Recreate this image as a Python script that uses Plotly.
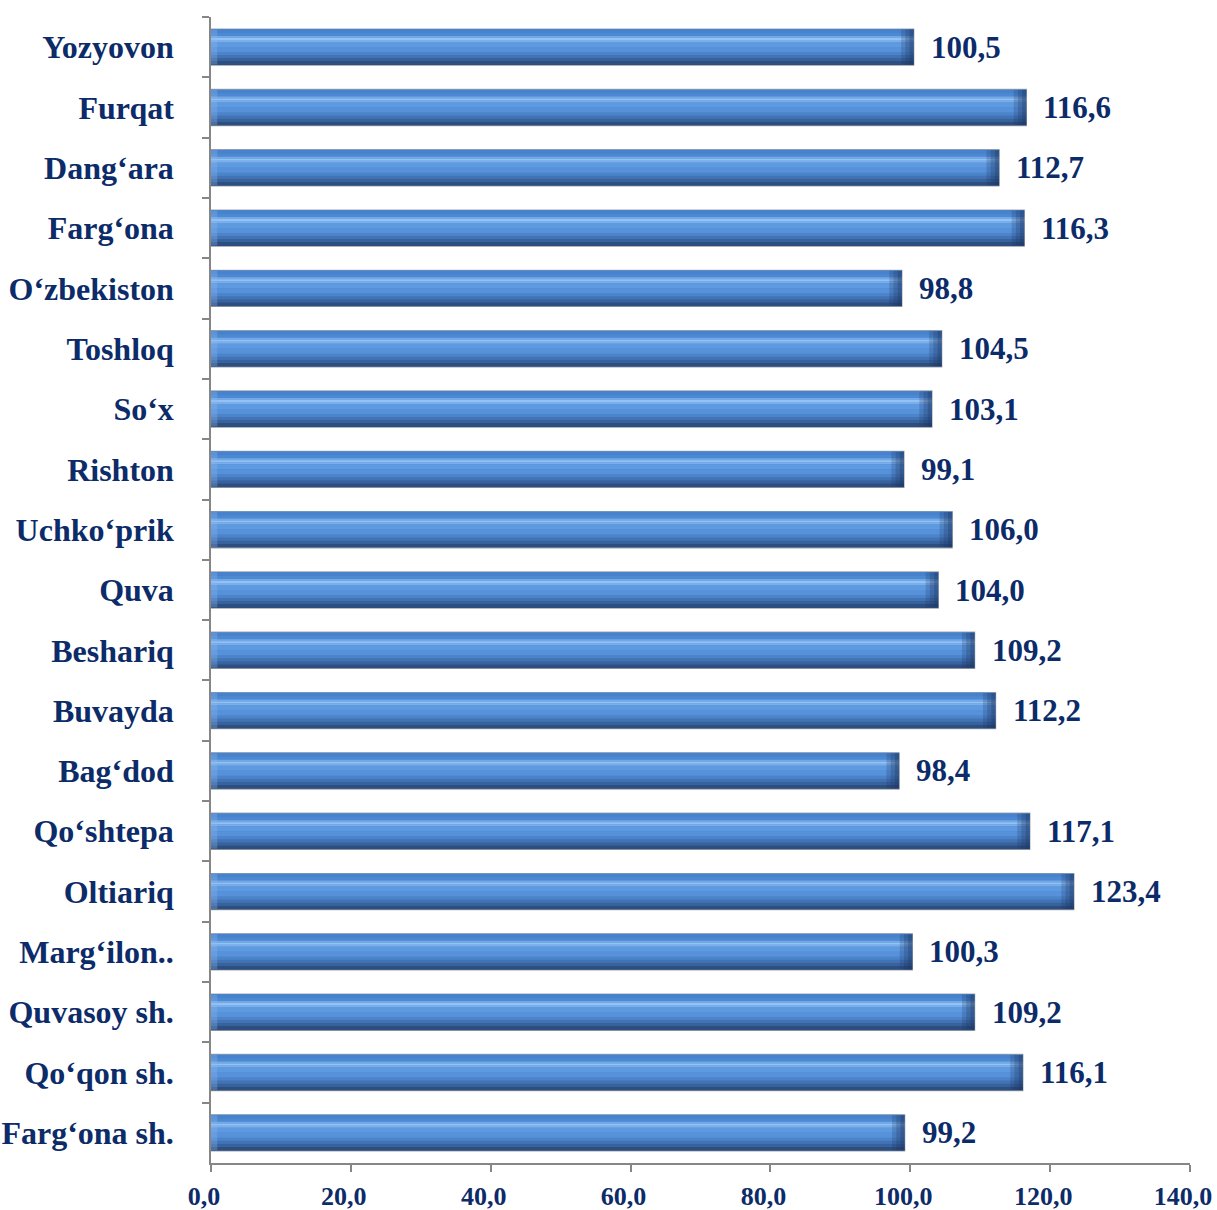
import plotly.graph_objects as go

# Data (top to bottom as shown)
categories = ["Yozyovon", "Furqat", "Dang‘ara", "Farg‘ona", "O‘zbekiston", "Toshloq",
              "So‘x", "Rishton", "Uchko‘prik", "Quva", "Beshariq", "Buvayda", "Bag‘dod",
              "Qo‘shtepa", "Oltiariq", "Marg‘ilon..", "Quvasoy sh.", "Qo‘qon sh.", "Farg‘ona sh."]
values = [100.5, 116.6, 112.7, 116.3, 98.8, 104.5, 103.1, 99.1, 106.0, 104.0,
          109.2, 112.2, 98.4, 117.1, 123.4, 100.3, 109.2, 116.1, 99.2]
x_ticks = [0, 20, 40, 60, 80, 100, 120, 140]

TEXT = "#0C2B69"
FONT = "Liberation Serif"
BAND_PX = 60.3
BAR_W = 0.6
# vertical gradient stripes: (px from top start, px end, color)
stripes = [
    (0, 4, "#4882CC"),
    (4, 7, "#4C89D3"),
    (7, 9, "#72A8E6"),
    (9, 11, "#94C2F2"),
    (11, 13, "#7BAEEA"),
    (13, 18, "#5E9AE0"),
    (18, 23, "#5691DA"),
    (23, 26, "#4C84CA"),
    (26, 29, "#4273B4"),
    (29, 32, "#37629D"),
    (32, 36, "#2D4F80"),
]

fig = go.Figure()
# base bar with grey outline
fig.add_trace(go.Bar(y=categories, x=values, orientation="h", width=BAR_W,
                     marker=dict(color="#4A86D0", line=dict(color="#A6A6A6", width=1.2)),
                     hoverinfo="skip", showlegend=False))
for a, b, c in stripes:
    fig.add_trace(go.Bar(y=categories, x=values, orientation="h",
                         offset=-BAR_W / 2 + a / BAND_PX, width=(b - a) / BAND_PX,
                         marker=dict(color=c, line=dict(width=0)),
                         hoverinfo="skip", showlegend=False))
# darker right end cap (graded)
for cap, op in [(1.8, 0.22), (1.2, 0.25), (0.6, 0.3)]:
    fig.add_trace(go.Bar(y=categories, x=[cap] * len(values), base=[v - cap for v in values],
                         orientation="h", width=(36 - 1) / BAND_PX, offset=-BAR_W / 2 + 0.5 / BAND_PX,
                         marker=dict(color="#1A3460", opacity=op, line=dict(width=0)),
                         hoverinfo="skip", showlegend=False))
# lighter left bevel
fig.add_trace(go.Bar(y=categories, x=[0.9] * len(values), base=[0] * len(values),
                     orientation="h", width=(36 - 1) / BAND_PX, offset=-BAR_W / 2 + 0.5 / BAND_PX,
                     marker=dict(color="#8DBBEE", opacity=0.3, line=dict(width=0)),
                     hoverinfo="skip", showlegend=False))

# value labels
for cat, v in zip(categories, values):
    fig.add_annotation(x=v, y=cat, text=f"{v:.1f}".replace(".", ","), showarrow=False,
                       xanchor="left", yanchor="middle", xshift=15, yshift=0,
                       font=dict(family=FONT, size=31, color=TEXT, weight="bold"))

fig.update_layout(
    barmode="overlay",
    width=1217, height=1210,
    margin=dict(l=211, r=27, t=17, b=47),
    paper_bgcolor="white", plot_bgcolor="white",
    separators=", ",
    font=dict(family=FONT, color=TEXT, weight="bold"),
)
fig.update_xaxes(range=[0, 140], tickvals=x_ticks,
                 ticktext=[f"{t:.1f}".replace(".", ",") for t in x_ticks],
                 showgrid=False, zeroline=False, showline=True, linecolor="#868686", linewidth=1.5,
                 ticks="outside", ticklen=7, tickcolor="#868686", tickwidth=1.5,
                 tickfont=dict(family=FONT, size=26, color=TEXT, weight="bold"),
                 ticklabelstandoff=2, ticklabelshift=-7, ticklabeloverflow="allow",
                 automargin=False)
fig.update_yaxes(categoryorder="array", categoryarray=categories,
                 range=[len(categories) - 0.5, -0.5],
                 showgrid=False, zeroline=False, showline=True, linecolor="#868686", linewidth=1.5,
                 ticks="outside", ticklen=7, tickcolor="#868686", tickwidth=1.5, tickson="boundaries",
                 tickfont=dict(family=FONT, size=32, color=TEXT, weight="bold"),
                 ticklabelstandoff=29, automargin=False)

fig.write_html("out.html", config={"displayModeBar": False},
               post_script="document.body.style.margin='0';document.body.style.overflow='hidden';")
